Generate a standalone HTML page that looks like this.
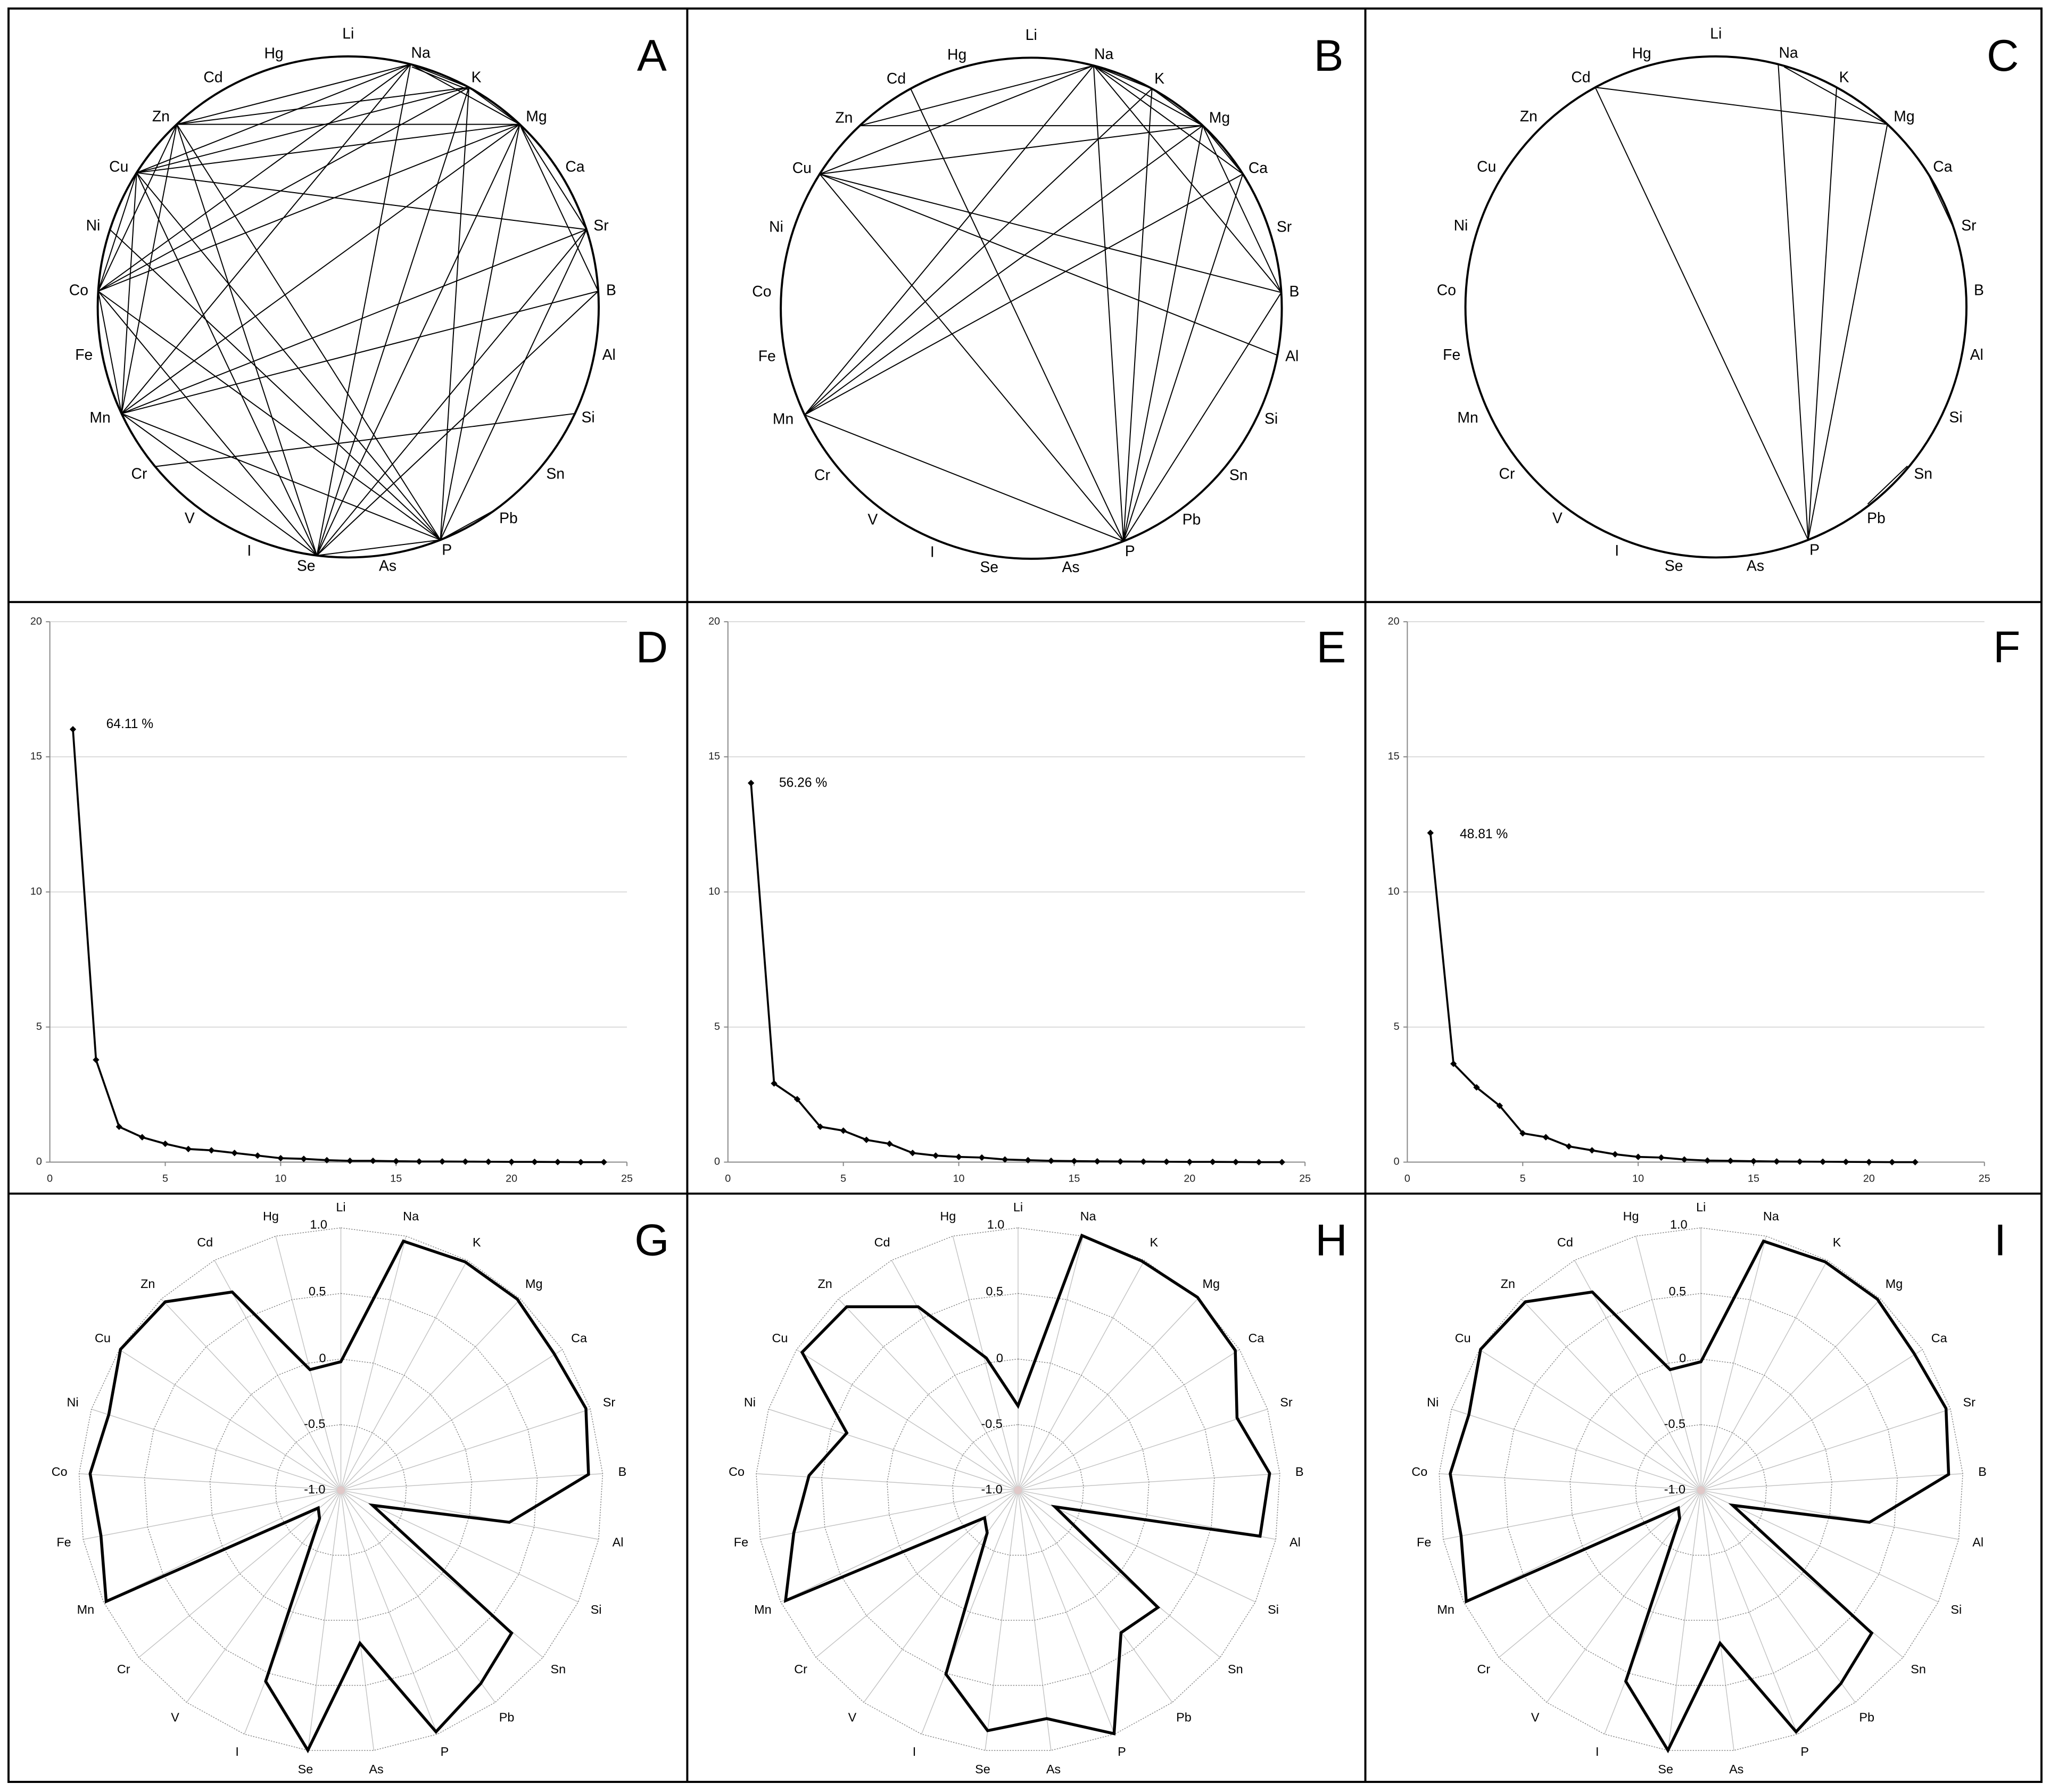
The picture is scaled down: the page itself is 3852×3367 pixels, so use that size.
<!DOCTYPE html>
<html><head><meta charset="utf-8"><style>
html,body{margin:0;padding:0;background:#fff}
svg{display:block}
text{font-family:"Liberation Sans",Arial,sans-serif}
</style></head><body>
<svg width="3852" height="3367" viewBox="0 0 1563 1366.2" preserveAspectRatio="none" xmlns="http://www.w3.org/2000/svg">
<defs>
<marker id="dm" viewBox="-3 -3 6 6" markerWidth="5" markerHeight="5" refX="0" refY="0" markerUnits="userSpaceOnUse"><path d="M0,-3L3,0L0,3L-3,0Z" fill="#000"/></marker>
<g id="rg" fill="none">
<g stroke="#c4c4c4" stroke-width="0.6">
<line x1="0" y1="0" x2="0" y2="-200"/><line x1="0" y1="0" x2="49.7" y2="-193.7"/><line x1="0" y1="0" x2="96.4" y2="-175.3"/><line x1="0" y1="0" x2="136.9" y2="-145.8"/><line x1="0" y1="0" x2="168.9" y2="-107.2"/><line x1="0" y1="0" x2="190.2" y2="-61.8"/><line x1="0" y1="0" x2="199.6" y2="-12.6"/><line x1="0" y1="0" x2="196.5" y2="37.5"/><line x1="0" y1="0" x2="181" y2="85.2"/><line x1="0" y1="0" x2="154.1" y2="127.5"/><line x1="0" y1="0" x2="117.6" y2="161.8"/><line x1="0" y1="0" x2="73.6" y2="186"/><line x1="0" y1="0" x2="25.1" y2="198.4"/><line x1="0" y1="0" x2="-25.1" y2="198.4"/><line x1="0" y1="0" x2="-73.6" y2="186"/><line x1="0" y1="0" x2="-117.6" y2="161.8"/><line x1="0" y1="0" x2="-154.1" y2="127.5"/><line x1="0" y1="0" x2="-181" y2="85.2"/><line x1="0" y1="0" x2="-196.5" y2="37.5"/><line x1="0" y1="0" x2="-199.6" y2="-12.6"/><line x1="0" y1="0" x2="-190.2" y2="-61.8"/><line x1="0" y1="0" x2="-168.9" y2="-107.2"/><line x1="0" y1="0" x2="-136.9" y2="-145.8"/><line x1="0" y1="0" x2="-96.4" y2="-175.3"/><line x1="0" y1="0" x2="-49.7" y2="-193.7"/>
</g>
<g stroke="#888" stroke-width="0.6" stroke-dasharray="1,1">
<polygon points="0,-200 49.7,-193.7 96.4,-175.3 136.9,-145.8 168.9,-107.2 190.2,-61.8 199.6,-12.6 196.5,37.5 181,85.2 154.1,127.5 117.6,161.8 73.6,186 25.1,198.4 -25.1,198.4 -73.6,186 -117.6,161.8 -154.1,127.5 -181,85.2 -196.5,37.5 -199.6,-12.6 -190.2,-61.8 -168.9,-107.2 -136.9,-145.8 -96.4,-175.3 -49.7,-193.7"/>
<polygon transform="scale(0.75)" stroke-width="0.8" stroke-dasharray="1.33,1.33" points="0,-200 49.7,-193.7 96.4,-175.3 136.9,-145.8 168.9,-107.2 190.2,-61.8 199.6,-12.6 196.5,37.5 181,85.2 154.1,127.5 117.6,161.8 73.6,186 25.1,198.4 -25.1,198.4 -73.6,186 -117.6,161.8 -154.1,127.5 -181,85.2 -196.5,37.5 -199.6,-12.6 -190.2,-61.8 -168.9,-107.2 -136.9,-145.8 -96.4,-175.3 -49.7,-193.7"/>
<polygon transform="scale(0.5)" stroke-width="1.2" stroke-dasharray="2,2" points="0,-200 49.7,-193.7 96.4,-175.3 136.9,-145.8 168.9,-107.2 190.2,-61.8 199.6,-12.6 196.5,37.5 181,85.2 154.1,127.5 117.6,161.8 73.6,186 25.1,198.4 -25.1,198.4 -73.6,186 -117.6,161.8 -154.1,127.5 -181,85.2 -196.5,37.5 -199.6,-12.6 -190.2,-61.8 -168.9,-107.2 -136.9,-145.8 -96.4,-175.3 -49.7,-193.7"/>
<polygon transform="scale(0.25)" stroke-width="2.4" stroke-dasharray="4,4" points="0,-200 49.7,-193.7 96.4,-175.3 136.9,-145.8 168.9,-107.2 190.2,-61.8 199.6,-12.6 196.5,37.5 181,85.2 154.1,127.5 117.6,161.8 73.6,186 25.1,198.4 -25.1,198.4 -73.6,186 -117.6,161.8 -154.1,127.5 -181,85.2 -196.5,37.5 -199.6,-12.6 -190.2,-61.8 -168.9,-107.2 -136.9,-145.8 -96.4,-175.3 -49.7,-193.7"/>
</g>
<circle r="3" fill="#e0c8c8" stroke="none"/>
<g font-size="9.5" fill="#000" stroke="none" text-anchor="middle" dominant-baseline="middle">
<text x="-17" y="-202">1.0</text><text x="-18" y="-151">0.5</text><text x="-14" y="-100">0</text><text x="-20" y="-50">-0.5</text><text x="-20" y="0">-1.0</text>
<text x="0" y="-215">Li</text><text x="53.4" y="-208.2">Na</text><text x="103.6" y="-188.4">K</text><text x="147.2" y="-156.7">Mg</text><text x="181.6" y="-115.2">Ca</text><text x="204.5" y="-66.4">Sr</text><text x="214.6" y="-13.5">B</text><text x="211.2" y="40.3">Al</text><text x="194.6" y="91.6">Si</text><text x="165.7" y="137.1">Sn</text><text x="126.4" y="173.9">Pb</text><text x="79.1" y="200">P</text><text x="27" y="213.3">As</text><text x="-27" y="213.3">Se</text><text x="-79.1" y="200">I</text><text x="-126.4" y="173.9">V</text><text x="-165.7" y="137.1">Cr</text><text x="-194.6" y="91.6">Mn</text><text x="-211.2" y="40.3">Fe</text><text x="-214.6" y="-13.5">Co</text><text x="-204.5" y="-66.4">Ni</text><text x="-181.6" y="-115.2">Cu</text><text x="-147.2" y="-156.7">Zn</text><text x="-103.6" y="-188.4">Cd</text><text x="-53.4" y="-208.2">Hg</text>
</g>
</g>
<g id="cl" font-size="11.5" fill="#000" text-anchor="middle" dominant-baseline="middle">
<text x="0" y="-207.6">Li</text><text x="55.3" y="-193.1">Na</text><text x="97.7" y="-174.3">K</text><text x="143.5" y="-144.5">Mg</text><text x="172.9" y="-106.2">Ca</text><text x="192.8" y="-61.3">Sr</text><text x="200.5" y="-12">B</text><text x="198.8" y="37.3">Al</text><text x="182.9" y="85">Si</text><text x="158" y="128">Sn</text><text x="122.2" y="161.9">Pb</text><text x="75.2" y="185.9">P</text><text x="30.1" y="198.1">As</text><text x="-32.1" y="198.1">Se</text><text x="-75.5" y="186.5">I</text><text x="-120.9" y="161.9">V</text><text x="-159.4" y="128">Cr</text><text x="-189.2" y="85.1">Mn</text><text x="-201.5" y="37.3">Fe</text><text x="-205.5" y="-12">Co</text><text x="-194.5" y="-61.3">Ni</text><text x="-174.9" y="-106.2">Cu</text><text x="-142.8" y="-144.5">Zn</text><text x="-103" y="-174.3">Cd</text><text x="-56.7" y="-192.6">Hg</text>
</g>
</defs>

<rect x="0" y="0" width="1563" height="1366.2" fill="#fff"/>

<!-- Panel A -->
<g transform="translate(265.5,234)">
<circle r="191" fill="none" stroke="#000" stroke-width="1.6"/>
<use href="#cl"/>
<g stroke="#000" stroke-width="0.8">
<line x1="47.5" y1="-185" x2="92" y2="-167.4"/><line x1="48.5" y1="-183" x2="92" y2="-165.4"/>
<line x1="47.5" y1="-185" x2="130.7" y2="-139.2"/>
<line x1="47.5" y1="-185" x2="-130.7" y2="-139.2"/>
<line x1="47.5" y1="-185" x2="-161.3" y2="-102.3"/>
<line x1="47.5" y1="-185" x2="-190.6" y2="-12"/>
<line x1="47.5" y1="-185" x2="-172.8" y2="81.3"/>
<line x1="47.5" y1="-185" x2="-23.9" y2="189.5"/>
<line x1="92" y1="-167.4" x2="130.7" y2="-139.2"/>
<line x1="92" y1="-167.4" x2="-130.7" y2="-139.2"/>
<line x1="92" y1="-167.4" x2="-161.3" y2="-102.3"/>
<line x1="92" y1="-167.4" x2="-190.6" y2="-12"/>
<line x1="92" y1="-167.4" x2="-23.9" y2="189.5"/>
<line x1="92" y1="-167.4" x2="70.3" y2="177.6"/>
<line x1="130.7" y1="-139.2" x2="-130.7" y2="-139.2"/>
<line x1="130.7" y1="-139.2" x2="-161.3" y2="-102.3"/>
<line x1="130.7" y1="-139.2" x2="-190.6" y2="-12"/>
<line x1="130.7" y1="-139.2" x2="-172.8" y2="81.3"/>
<line x1="130.7" y1="-139.2" x2="-23.9" y2="189.5"/>
<line x1="130.7" y1="-139.2" x2="70.3" y2="177.6"/>
<line x1="130.7" y1="-139.2" x2="181.7" y2="-59"/>
<line x1="130.7" y1="-139.2" x2="190.6" y2="-12"/>
<line x1="181.7" y1="-59" x2="-161.3" y2="-102.3"/>
<line x1="181.7" y1="-59" x2="-172.8" y2="81.3"/>
<line x1="181.7" y1="-59" x2="-23.9" y2="189.5"/>
<line x1="181.7" y1="-59" x2="70.3" y2="177.6"/>
<line x1="190.6" y1="-12" x2="-172.8" y2="81.3"/>
<line x1="190.6" y1="-12" x2="-23.9" y2="189.5"/>
<line x1="-130.7" y1="-139.2" x2="-190.6" y2="-12"/>
<line x1="-130.7" y1="-139.2" x2="-172.8" y2="81.3"/>
<line x1="-130.7" y1="-139.2" x2="-23.9" y2="189.5"/>
<line x1="-130.7" y1="-139.2" x2="70.3" y2="177.6"/>
<line x1="-161.3" y1="-102.3" x2="-190.6" y2="-12"/>
<line x1="-161.3" y1="-102.3" x2="-172.8" y2="81.3"/>
<line x1="-161.3" y1="-102.3" x2="-23.9" y2="189.5"/>
<line x1="-161.3" y1="-102.3" x2="70.3" y2="177.6"/>
<line x1="-181.7" y1="-59" x2="70.3" y2="177.6"/>
<line x1="-190.6" y1="-12" x2="-172.8" y2="81.3"/>
<line x1="-190.6" y1="-12" x2="-23.9" y2="189.5"/>
<line x1="-190.6" y1="-12" x2="70.3" y2="177.6"/>
<line x1="-172.8" y1="81.3" x2="-23.9" y2="189.5"/>
<line x1="-172.8" y1="81.3" x2="70.3" y2="177.6"/>
<line x1="-147.2" y1="121.7" x2="172.8" y2="81.3"/>
<line x1="-23.9" y1="189.5" x2="70.3" y2="177.6"/>
<line x1="70.3" y1="177.6" x2="112.3" y2="154.5"/>
</g>
</g>

<!-- Panel B -->
<g transform="translate(786.3,235)">
<circle r="191" fill="none" stroke="#000" stroke-width="1.6"/>
<use href="#cl"/>
<g stroke="#000" stroke-width="0.8">
<line x1="47.5" y1="-185" x2="-130.7" y2="-139.2"/>
<line x1="47.5" y1="-185" x2="-161.3" y2="-102.3"/>
<line x1="47.5" y1="-185" x2="130.7" y2="-139.2"/>
<line x1="47.5" y1="-185" x2="92" y2="-167.4"/>
<line x1="47.5" y1="-185" x2="161.3" y2="-102.3"/>
<line x1="47.5" y1="-185" x2="190.6" y2="-12"/>
<line x1="47.5" y1="-185" x2="-172.8" y2="81.3"/>
<line x1="47.5" y1="-185" x2="70.3" y2="177.6"/>
<line x1="92" y1="-167.4" x2="130.7" y2="-139.2"/>
<line x1="92" y1="-167.4" x2="70.3" y2="177.6"/>
<line x1="92" y1="-167.4" x2="-172.8" y2="81.3"/>
<line x1="130.7" y1="-139.2" x2="-130.7" y2="-139.2"/>
<line x1="130.7" y1="-139.2" x2="-161.3" y2="-102.3"/>
<line x1="130.7" y1="-139.2" x2="161.3" y2="-102.3"/>
<line x1="130.7" y1="-139.2" x2="190.6" y2="-12"/>
<line x1="130.7" y1="-139.2" x2="-172.8" y2="81.3"/>
<line x1="130.7" y1="-139.2" x2="70.3" y2="177.6"/>
<line x1="161.3" y1="-102.3" x2="-172.8" y2="81.3"/>
<line x1="161.3" y1="-102.3" x2="70.3" y2="177.6"/>
<line x1="-161.3" y1="-102.3" x2="190.6" y2="-12"/>
<line x1="-161.3" y1="-102.3" x2="187.6" y2="35.8"/>
<line x1="-161.3" y1="-102.3" x2="70.3" y2="177.6"/>
<line x1="-92" y1="-167.4" x2="70.3" y2="177.6"/>
<line x1="-172.8" y1="81.3" x2="70.3" y2="177.6"/>
<line x1="190.6" y1="-12" x2="70.3" y2="177.6"/>
</g>
</g>

<!-- Panel C -->
<g transform="translate(1308.3,234)">
<circle r="191" fill="none" stroke="#000" stroke-width="1.6"/>
<use href="#cl"/>
<g stroke="#000" stroke-width="0.8">
<line x1="-92" y1="-167.4" x2="130.7" y2="-139.2"/>
<line x1="-92" y1="-167.4" x2="70.3" y2="177.6"/>
<line x1="47.5" y1="-185" x2="70.3" y2="177.6"/>
<line x1="52" y1="-183" x2="130.7" y2="-139.2"/>
<line x1="92" y1="-167.4" x2="70.3" y2="177.6"/>
<line x1="130.7" y1="-139.2" x2="70.3" y2="177.6"/>
<line x1="161.3" y1="-102.3" x2="181.7" y2="-59"/>
<line x1="115.7" y1="150.3" x2="146" y2="121.3"/>
</g>
</g>

<!-- Scree charts -->
<g id="scD" font-size="8" fill="#222">
<g stroke="#d0d0d0" stroke-width="0.6"><line x1="38" y1="474" x2="478" y2="474"/><line x1="38" y1="577" x2="478" y2="577"/><line x1="38" y1="680" x2="478" y2="680"/><line x1="38" y1="783" x2="478" y2="783"/></g>
<g stroke="#888" stroke-width="0.8"><line x1="38" y1="474" x2="38" y2="886"/><line x1="38" y1="886" x2="478" y2="886"/>
<line x1="35" y1="474" x2="38" y2="474"/><line x1="35" y1="577" x2="38" y2="577"/><line x1="35" y1="680" x2="38" y2="680"/><line x1="35" y1="783" x2="38" y2="783"/><line x1="35" y1="886" x2="38" y2="886"/>
<line x1="126" y1="886" x2="126" y2="889"/><line x1="214" y1="886" x2="214" y2="889"/><line x1="302" y1="886" x2="302" y2="889"/><line x1="390" y1="886" x2="390" y2="889"/><line x1="478" y1="886" x2="478" y2="889"/></g>
<g text-anchor="end" dominant-baseline="middle"><text x="32" y="474">20</text><text x="32" y="577">15</text><text x="32" y="680">10</text><text x="32" y="783">5</text><text x="32" y="886">0</text></g>
<g text-anchor="middle"><text x="38" y="901">0</text><text x="126" y="901">5</text><text x="214" y="901">10</text><text x="302" y="901">15</text><text x="390" y="901">20</text><text x="478" y="901">25</text></g>
</g>
<use href="#scD" x="517"/>
<use href="#scD" x="1035"/>
<g fill="none" stroke="#000" stroke-width="1.5" marker-start="url(#dm)" marker-mid="url(#dm)" marker-end="url(#dm)">
<polyline points="55.6,556 73.2,808 90.8,859 108.4,867 126,872 143.6,876 161.2,877 178.8,879 196.4,881 214,883 231.6,883.5 249.2,884.5 266.8,885 284.4,885 302,885.3 319.6,885.5 337.2,885.5 354.8,885.6 372.4,885.7 390,885.8 407.6,885.8 425.2,885.9 442.8,886 460.4,886"/>
<polyline points="572.6,597 590.2,826 607.8,838 625.4,859 643,862 660.6,869 678.2,872 695.8,879 713.4,881 731,882 748.6,882.5 766.2,884 783.8,884.5 801.4,885 819,885.2 836.6,885.4 854.2,885.5 871.8,885.6 889.4,885.7 907,885.8 924.6,885.8 942.2,885.9 959.8,886 977.4,886"/>
<polyline points="1090.6,635 1108.2,811 1125.8,829 1143.4,843 1161,864 1178.6,867 1196.2,874 1213.8,877 1231.4,880 1249,882 1266.6,882.5 1284.2,884 1301.8,884.8 1319.4,885 1337,885.3 1354.6,885.5 1372.2,885.6 1389.8,885.7 1407.4,885.8 1425,885.9 1442.6,886 1460.2,886"/>
</g>
<g font-size="10" fill="#000"><text x="81" y="555">64.11 %</text><text x="594" y="600">56.26 %</text><text x="1113" y="639">48.81 %</text></g>

<!-- Radar grids -->
<use href="#rg" x="259.9" y="1136.1"/>
<use href="#rg" x="776.2" y="1136.1"/>
<use href="#rg" x="1296.9" y="1136.1"/>
<g fill="none" stroke="#000" stroke-width="5.5" stroke-linejoin="miter">
<polygon transform="translate(6.09,910.9) scale(0.3313,0.2873)" vector-effect="non-scaling-stroke" points="766,443 910,123 1052,178 1172,277 1256,420 1330,567 1336,742 1154,869 839,824 1159,1163 1088,1297 985,1425 810,1190 690,1474 593,1291 717,859 714,831 226,1079 214,905 189,740 232,583 259,410 362,284 516,258 695,464"/>
<polygon transform="translate(523.4,910.9) scale(0.3313,0.2873)" vector-effect="non-scaling-stroke" points="763,560 910,108 1048,176 1176,272 1263,413 1267,592 1342,739 1320,906 848,828 1085,1095 1000,1162 984,1430 829,1390 693,1422 597,1272 692,897 686,857 228,1077 247,897 282,745 369,632 266,418 369,297 533,297 690,433"/>
<polygon transform="translate(1043.09,910.9) scale(0.3313,0.2873)" vector-effect="non-scaling-stroke" points="766,443 910,123 1052,178 1172,277 1256,420 1330,567 1336,742 1154,869 839,824 1159,1163 1088,1297 985,1425 810,1190 690,1474 593,1291 717,859 714,831 226,1079 214,905 189,740 232,583 259,410 362,284 516,258 695,464"/>
</g>

<!-- Panel letters -->
<g font-size="34" fill="#000" text-anchor="middle">
<text x="497" y="54">A</text><text x="1013" y="54">B</text><text x="1527" y="54">C</text>
<text x="497" y="505">D</text><text x="1015" y="505">E</text><text x="1530" y="505">F</text>
<text x="497" y="957">G</text><text x="1015" y="957">H</text><text x="1525" y="957">I</text>
</g>

<!-- Frame -->
<g stroke="#000" stroke-width="1.6" fill="none">
<rect x="6.5" y="6.5" width="1550" height="1352"/>
<line x1="524" y1="6.5" x2="524" y2="1358.5"/>
<line x1="1041" y1="6.5" x2="1041" y2="1358.5"/>
<line x1="6.5" y1="459" x2="1556.5" y2="459"/>
<line x1="6.5" y1="910" x2="1556.5" y2="910"/>
</g>
</svg>
</body></html>
